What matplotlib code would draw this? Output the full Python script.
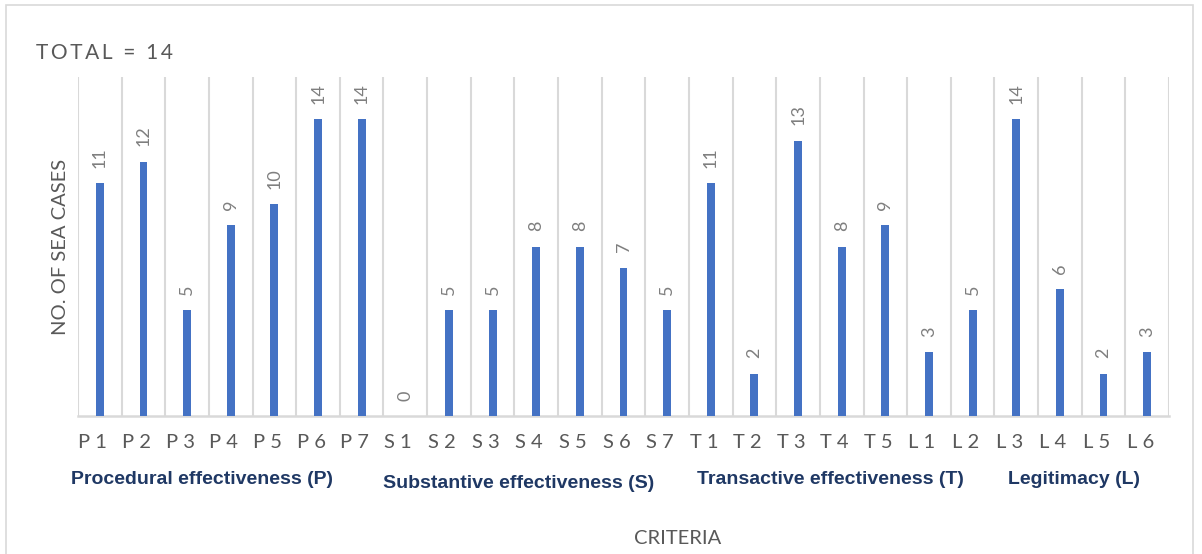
import matplotlib
matplotlib.use("Agg")
import matplotlib.pyplot as plt
import matplotlib.transforms as mtransforms
from matplotlib.patches import Rectangle

# Criteria and number of SEA cases meeting each one
procedural = ["P1", "P2", "P3", "P4", "P5", "P6", "P7"]
procedural_vals = [11, 12, 5, 9, 10, 14, 14]
substantive = ["S1", "S2", "S3", "S4", "S5", "S6", "S7"]
substantive_vals = [0, 5, 5, 8, 8, 7, 5]
transactive = ["T1", "T2", "T3", "T4", "T5"]
transactive_vals = [11, 2, 13, 8, 9]
legitimacy = ["L1", "L2", "L3", "L4", "L5", "L6"]
legitimacy_vals = [3, 5, 14, 6, 2, 3]

group_names = ["Procedural effectiveness (P)", "Substantive effectiveness (S)",
               "Transactive effectiveness (T)", "Legitimacy (L)"]
total_cases = 14

categories = procedural + substantive + transactive + legitimacy
values = procedural_vals + substantive_vals + transactive_vals + legitimacy_vals

BAR = "#4472C4"
GRID = "#D9D9D9"
TXT = "#595959"
NAVY = "#1F3864"
FONT = ["Lato", "DejaVu Sans"]
BOLD_FONT = ["Liberation Sans", "DejaVu Sans"]

fig = plt.figure(figsize=(12.02, 5.54), dpi=100)
W, H = 1202, 554

# outer chart border
fig.patches.append(Rectangle((6 / W, -0.01), (1193 - 6) / W, 1 - 5 / H + 0.01,
                             transform=fig.transFigure, fill=False,
                             edgecolor="#D9D9D9", linewidth=1.2))

ax = fig.add_axes([78 / W, 1 - 416 / H, (1169 - 78) / W, (416 - 77) / H])
x = list(range(len(categories)))
ax.bar(x, values, width=0.18, color=BAR, zorder=3)
ax.set_xlim(-0.5, len(categories) - 0.5)
ax.set_ylim(0, 16)

# vertical separators between categories
for b in range(len(categories) + 1):
    ax.axvline(b - 0.5, color=GRID, linewidth=1.5, zorder=1)
for s in ["top", "right", "left"]:
    ax.spines[s].set_visible(False)
ax.spines["bottom"].set_color(GRID)
ax.spines["bottom"].set_linewidth(1.8)
ax.set_yticks([])
ax.set_xticks(x)
ax.set_xticklabels([" ".join(c) for c in categories], fontsize=14.5,
                   color=TXT, family=FONT)
ax.tick_params(axis="x", length=0, pad=13)
shift = mtransforms.ScaledTranslation(-7 / 100, 0, fig.dpi_scale_trans)
for lbl in ax.get_xticklabels():
    lbl.set_transform(lbl.get_transform() + shift)

# value labels above bars
for xi, v in zip(x, values):
    ax.annotate(str(v), (xi, v), xytext=(0, 11), textcoords="offset points",
                rotation=90, ha="center", va="bottom", fontsize=13,
                color="#7F7F7F", family=FONT)

# group captions under the tick labels (centres in figure pixels)
group_x = [202, 519, 830, 1074]
group_y = [480, 484, 480, 480]
for name, gx, gy in zip(group_names, group_x, group_y):
    fig.text(gx / W, 1 - gy / H, name, ha="center", va="center",
             fontsize=14, fontweight="bold", color=NAVY, family=BOLD_FONT)

fig.text(60 / W, 1 - 247 / H, "NO. OF SEA CASES", rotation=90, ha="center",
         va="center", fontsize=14.5, color=TXT, family=FONT)
fig.text(678 / W, 1 - 538 / H, "CRITERIA", ha="center", va="center",
         fontsize=14.5, color=TXT, family=FONT)
fig.text(36 / W, 1 - 53 / H, "\u2009".join(f"TOTAL = {total_cases}"), ha="left",
         va="center", fontsize=15, color=TXT, family=FONT)

fig.savefig("out.png", dpi=100)
